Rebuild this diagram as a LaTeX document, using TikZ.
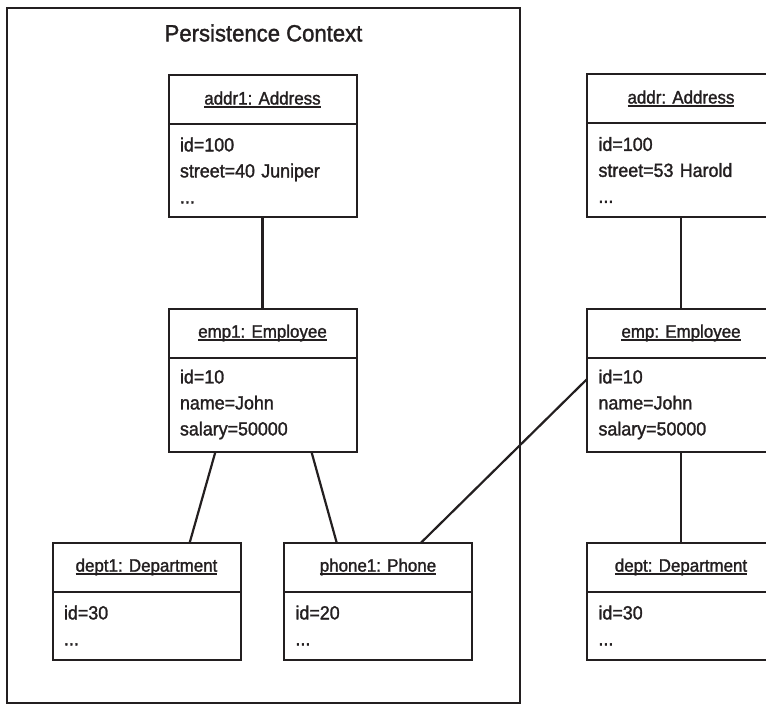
\documentclass[tikz,border=0pt]{standalone}
\usepackage{fontspec}
\setmainfont[FakeStretch=0.94,FakeBold=1.5]{Liberation Sans}
\usetikzlibrary{calc}
\definecolor{ink}{HTML}{231F20}
\newcommand{\myul}[1]{\setbox0\hbox{#1}\rlap{\rule[-3pt]{\wd0}{1.4pt}}\box0}
\begin{document}
\begin{tikzpicture}[x=1pt,y=-1pt,
  hdr/.style={draw=ink, line width=2pt, minimum width=188pt, minimum height=49pt, inner sep=0pt, outer sep=0pt, font=\fontsize{18}{20}\selectfont, text=ink},
  bdy/.style={draw=ink, line width=2pt, minimum width=188pt, text width=165pt, inner xsep=11.5pt, inner ysep=0pt, outer sep=0pt, align=left, font=\fontsize{19}{26}\selectfont, anchor=north, text=ink},
  conn/.style={draw=ink, line width=2.2pt},
  frame/.style={draw=ink, line width=1.6pt}]
\useasboundingbox (0,0) rectangle (766,704);
\clip (0,0) rectangle (766,704);
\draw[frame] (7,8) rectangle (520,703);
\node[text=ink, font=\fontsize{23.5}{26}\selectfont] (title) at (263.5,33) {Persistence Context};
% left (persistence context)
\node[hdr] (addr1h) at (262.5,99.5) {\myul{addr1: Address}};
\node[bdy, minimum height=93pt] (addr1b) at (addr1h.south) {id=100\\street=40 Juniper\\...};
\node[hdr] (emp1h) at (262.5,333) {\myul{emp1: Employee}};
\node[bdy, minimum height=94pt] (emp1b) at (emp1h.south) {id=10\\name=John\\salary=50000};
\node[hdr] (dept1h) at (146.5,567) {\myul{dept1: Department}};
\node[bdy, minimum height=68pt] (dept1b) at (dept1h.south) {id=30\\...};
\node[hdr] (phone1h) at (378,567) {\myul{phone1: Phone}};
\node[bdy, minimum height=68pt] (phone1b) at (phone1h.south) {id=20\\...};
% right (detached)
\node[hdr] (addrh) at (681,98.5) {\myul{addr: Address}};
\node[bdy, minimum height=94pt] (addrb) at (addrh.south) {id=100\\street=53 Harold\\...};
\node[hdr] (emph) at (681,333) {\myul{emp: Employee}};
\node[bdy, minimum height=94pt] (empb) at (emph.south) {id=10\\name=John\\salary=50000};
\node[hdr] (depth) at (681,567) {\myul{dept: Department}};
\node[bdy, minimum height=68pt] (deptb) at (depth.south) {id=30\\...};
% connectors
\draw[conn] (addr1b.south) -- (emp1h.north);
\draw[conn] ($(emp1b.south west)!0.25!(emp1b.south east)$) -- ($(dept1h.north west)!0.73!(dept1h.north east)$);
\draw[conn] ($(emp1b.south west)!0.76!(emp1b.south east)$) -- ($(phone1h.north west)!0.28!(phone1h.north east)$);
\draw[conn] ($(phone1h.north west)!0.73!(phone1h.north east)$) -- ($(empb.north west)!0.23!(empb.south west)$);
\draw[conn] (addrb.south) -- (emph.north);
\draw[conn] (empb.south) -- (depth.north);
\end{tikzpicture}
\end{document}
